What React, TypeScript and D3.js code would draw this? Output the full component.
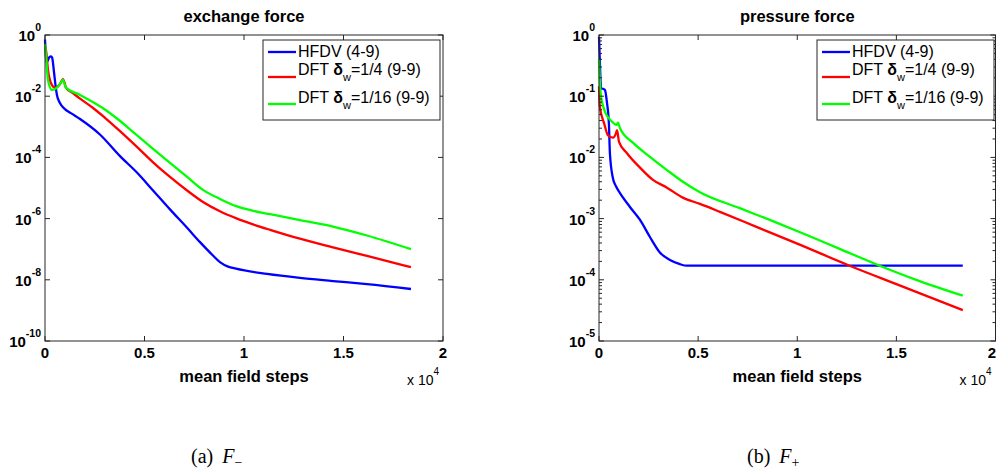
import React from 'react';
import * as d3 from 'd3';

// ---------- tick labels ----------
const X_TICKS = [0, 0.5, 1, 1.5, 2];
const X_TICK_LABELS = ['0', '0.5', '1', '1.5', '2'];
const EXCHANGE_Y_EXPONENTS = [0, -2, -4, -6, -8, -10];
const PRESSURE_Y_EXPONENTS = [0, -1, -2, -3, -4, -5];
const SERIES_NAMES = ['HFDV (4-9)', 'DFT δw=1/4 (9-9)', 'DFT δw=1/16 (9-9)'];
const SERIES_COLORS = ['#0000ff', '#ff0000', '#00ff00'];

// ---------- exchange force (x in units of 10^4 mean field steps) ----------
const exchangeHfdvSteps = [0, 0.008, 0.022, 0.03, 0.036, 0.045, 0.052, 0.06, 0.075, 0.1, 0.13, 0.176, 0.276, 0.377, 0.462, 0.543, 0.628, 0.714, 0.779, 0.84, 0.879, 0.92, 0.96, 1.116, 1.281, 1.447, 1.618, 1.839];
const exchangeHfdvValues = [0.71, 0.126, 0.19, 0.2, 0.18, 0.063, 0.025, 0.011, 6.0e-3, 3.8e-3, 2.8e-3, 1.8e-3, 5.6e-4, 1.1e-4, 3.2e-5, 8.3e-6, 2.0e-6, 5.0e-7, 1.7e-7, 6.6e-8, 3.8e-8, 2.7e-8, 2.3e-8, 1.55e-8, 1.15e-8, 9.1e-9, 7.2e-9, 5.0e-9];

const exchangeDft4Steps = [0, 0.005, 0.015, 0.035, 0.05, 0.065, 0.08, 0.09, 0.1, 0.105, 0.14, 0.176, 0.24, 0.3, 0.377, 0.462, 0.543, 0.628, 0.714, 0.794, 0.879, 0.965, 1.045, 1.131, 1.281, 1.447, 1.618, 1.839];
const exchangeDft4Values = [0.4, 0.32, 0.072, 0.023, 0.019, 0.021, 0.028, 0.036, 0.025, 0.019, 0.0126, 8.3e-3, 4.2e-3, 2.0e-3, 7.2e-4, 2.2e-4, 6.9e-5, 2.3e-5, 8.3e-6, 3.5e-6, 1.74e-6, 1.0e-6, 6.5e-7, 4.3e-7, 2.2e-7, 1.15e-7, 6.0e-8, 2.6e-8];

const exchangeDft16Steps = [0, 0.005, 0.015, 0.035, 0.06, 0.08, 0.09, 0.105, 0.176, 0.29, 0.36, 0.427, 0.543, 0.628, 0.714, 0.794, 0.879, 0.965, 1.045, 1.131, 1.281, 1.447, 1.618, 1.839];
const exchangeDft16Values = [0.5, 0.22, 0.034, 0.016, 0.019, 0.028, 0.034, 0.019, 0.011, 4.1e-3, 1.9e-3, 8.3e-4, 1.9e-4, 6.6e-5, 2.3e-5, 8.7e-6, 4.4e-6, 2.5e-6, 1.8e-6, 1.4e-6, 8.9e-7, 5.5e-7, 2.8e-7, 1.0e-7];

// ---------- pressure force ----------
const pressureHfdvSteps = [0, 0.005, 0.01, 0.02, 0.03, 0.04, 0.05, 0.055, 0.07, 0.085, 0.106, 0.156, 0.207, 0.257, 0.307, 0.358, 0.408, 0.443, 0.5, 1.0, 1.5, 1.835];
const pressureHfdvValues = [0.93, 0.32, 0.135, 0.132, 0.126, 0.079, 0.035, 0.0117, 4.6e-3, 3.4e-3, 2.6e-3, 1.55e-3, 9.5e-4, 5.0e-4, 2.8e-4, 2.1e-4, 1.8e-4, 1.7e-4, 1.7e-4, 1.7e-4, 1.7e-4, 1.7e-4];

const pressureDft4Steps = [0, 0.004, 0.027, 0.045, 0.07, 0.086, 0.091, 0.101, 0.141, 0.207, 0.272, 0.343, 0.423, 0.509, 0.61, 0.8, 1.0, 1.264, 1.5, 1.835];
const pressureDft4Values = [0.145, 0.068, 0.035, 0.023, 0.021, 0.025, 0.028, 0.018, 0.0117, 6.8e-3, 4.3e-3, 3.2e-3, 2.2e-3, 1.74e-3, 1.29e-3, 7.2e-4, 3.9e-4, 1.7e-4, 8.5e-5, 3.2e-5];

const pressureDft16Steps = [0, 0.004, 0.01, 0.03, 0.06, 0.09, 0.095, 0.106, 0.171, 0.257, 0.343, 0.423, 0.509, 0.71, 0.877, 1.048, 1.214, 1.416, 1.6, 1.835];
const pressureDft16Values = [0.4, 0.18, 0.1, 0.056, 0.04, 0.034, 0.037, 0.03, 0.0174, 0.0102, 6.2e-3, 4.0e-3, 2.7e-3, 1.48e-3, 9.1e-4, 5.4e-4, 3.2e-4, 1.7e-4, 1.0e-4, 5.5e-5];

const FONT = 'Arial, "Liberation Sans", Helvetica, sans-serif';
const SERIF = '"Liberation Serif", "DejaVu Serif", serif';

type Series = { xs: number[]; ys: number[]; color: string };

function zip(xs: number[], ys: number[]): [number, number][] {
  return xs.map((x, i) => [x, ys[i]]);
}

function Panel(props: {
  left: number; right: number; top: number; bottom: number;
  exps: number[]; minor: boolean; title: string;
  series: Series[]; legendX: number;
}) {
  const { left, right, top, bottom, exps, minor, title, series, legendX } = props;
  const minExp = Math.min(...exps);
  const x = d3.scaleLinear().domain([0, 2]).range([left, right]);
  const y = d3.scaleLog().domain([Math.pow(10, minExp), 1]).range([bottom, top]);
  const line = d3.line<[number, number]>().x(d => x(d[0])).y(d => y(d[1])).curve(d3.curveMonotoneX);
  const cx = (left + right) / 2;

  const minorTicks: number[] = [];
  if (minor) {
    for (let e = minExp; e < 0; e++) {
      for (let k = 2; k <= 9; k++) minorTicks.push(k * Math.pow(10, e));
    }
  }
  const axisColor = '#262626';
  const legendTop = 40;
  const legendW = 177;
  const legendH = 80;
  const lfs = 16;

  return (
    <g fontFamily={FONT}>
      <text x={cx} y={22} textAnchor="middle" fontSize={16.5} fontWeight="bold">{title}</text>
      {series.map((s, i) => (
        <path key={i} d={line(zip(s.xs, s.ys)) || ''} fill="none" stroke={s.color} strokeWidth={2.3} strokeLinejoin="round" />
      ))}
      <rect x={left} y={top} width={right - left} height={bottom - top} fill="none" stroke={axisColor} strokeWidth={1} />
      {X_TICKS.map((t, i) => (
        <g key={'xt' + i}>
          <line x1={x(t)} x2={x(t)} y1={bottom} y2={bottom - 5} stroke={axisColor} />
          <line x1={x(t)} x2={x(t)} y1={top} y2={top + 5} stroke={axisColor} />
          <text x={Math.min(x(t), 992)} y={bottom + 17} textAnchor="middle" fontSize={15} fontWeight="bold">{X_TICK_LABELS[i]}</text>
        </g>
      ))}
      {exps.map((e, i) => {
        const v = Math.pow(10, e);
        return (
          <g key={'yt' + i}>
            <line x1={left} x2={left + 5} y1={y(v)} y2={y(v)} stroke={axisColor} />
            <line x1={right} x2={right - 5} y1={y(v)} y2={y(v)} stroke={axisColor} />
            <text x={left - 4} y={y(v) + 6} textAnchor="end" fontSize={15} fontWeight="bold">
              10<tspan dy={-10} fontSize={10.5}>{String(e)}</tspan>
            </text>
          </g>
        );
      })}
      {minorTicks.map((v, i) => (
        <g key={'mt' + i}>
          <line x1={left} x2={left + 3} y1={y(v)} y2={y(v)} stroke={axisColor} />
          <line x1={right} x2={right - 3} y1={y(v)} y2={y(v)} stroke={axisColor} />
        </g>
      ))}
      <text x={cx} y={382} textAnchor="middle" fontSize={16.5} fontWeight="bold">mean field steps</text>
      <text x={right - 36} y={385} fontSize={14}>x 10<tspan dy={-10} fontSize={10}>4</tspan></text>
      {/* legend */}
      <rect x={legendX} y={legendTop} width={legendW} height={legendH} fill="#fff" stroke={axisColor} strokeWidth={1} />
      <line x1={legendX + 5} x2={legendX + 33} y1={legendTop + 12} y2={legendTop + 12} stroke={SERIES_COLORS[0]} strokeWidth={2.3} />
      <text x={legendX + 35} y={legendTop + 17} fontSize={lfs}>{SERIES_NAMES[0]}</text>
      <line x1={legendX + 5} x2={legendX + 33} y1={legendTop + 37} y2={legendTop + 37} stroke={SERIES_COLORS[1]} strokeWidth={2.3} />
      <text x={legendX + 35} y={legendTop + 35} fontSize={lfs}>
        DFT <tspan fontWeight="bold">δ</tspan><tspan dy={6} fontSize={11}>w</tspan><tspan dy={-6}>=1/4 (9-9)</tspan>
      </text>
      <line x1={legendX + 5} x2={legendX + 33} y1={legendTop + 64} y2={legendTop + 64} stroke={SERIES_COLORS[2]} strokeWidth={2.3} />
      <text x={legendX + 35} y={legendTop + 63} fontSize={lfs}>
        DFT <tspan fontWeight="bold">δ</tspan><tspan dy={6} fontSize={11}>w</tspan><tspan dy={-6}>=1/16 (9-9)</tspan>
      </text>
    </g>
  );
}

export default function App() {
  const exchangeSeries: Series[] = [
    { xs: exchangeHfdvSteps, ys: exchangeHfdvValues, color: SERIES_COLORS[0] },
    { xs: exchangeDft4Steps, ys: exchangeDft4Values, color: SERIES_COLORS[1] },
    { xs: exchangeDft16Steps, ys: exchangeDft16Values, color: SERIES_COLORS[2] },
  ];
  const pressureSeries: Series[] = [
    { xs: pressureHfdvSteps, ys: pressureHfdvValues, color: SERIES_COLORS[0] },
    { xs: pressureDft4Steps, ys: pressureDft4Values, color: SERIES_COLORS[1] },
    { xs: pressureDft16Steps, ys: pressureDft16Values, color: SERIES_COLORS[2] },
  ];
  return (
    <svg width={998} height={474} style={{ position: 'absolute', left: 0, top: 0, background: '#fff' }}>
      <rect x={0} y={0} width={998} height={474} fill="#fff" />
      <Panel left={45} right={443} top={35} bottom={341} exps={EXCHANGE_Y_EXPONENTS} minor={false}
        title="exchange force" series={exchangeSeries} legendX={263} />
      <Panel left={599} right={995.5} top={35} bottom={341} exps={PRESSURE_Y_EXPONENTS} minor={true}
        title="pressure force" series={pressureSeries} legendX={817} />
      <g fontFamily={SERIF} fontSize={20}>
        <text x={191} y={463}>(a)<tspan dx={9} fontStyle="italic">F</tspan><tspan dy={4} fontSize={14}>−</tspan></text>
        <text x={747} y={463}>(b)<tspan dx={9} fontStyle="italic">F</tspan><tspan dy={4} fontSize={14}>+</tspan></text>
      </g>
    </svg>
  );
}
